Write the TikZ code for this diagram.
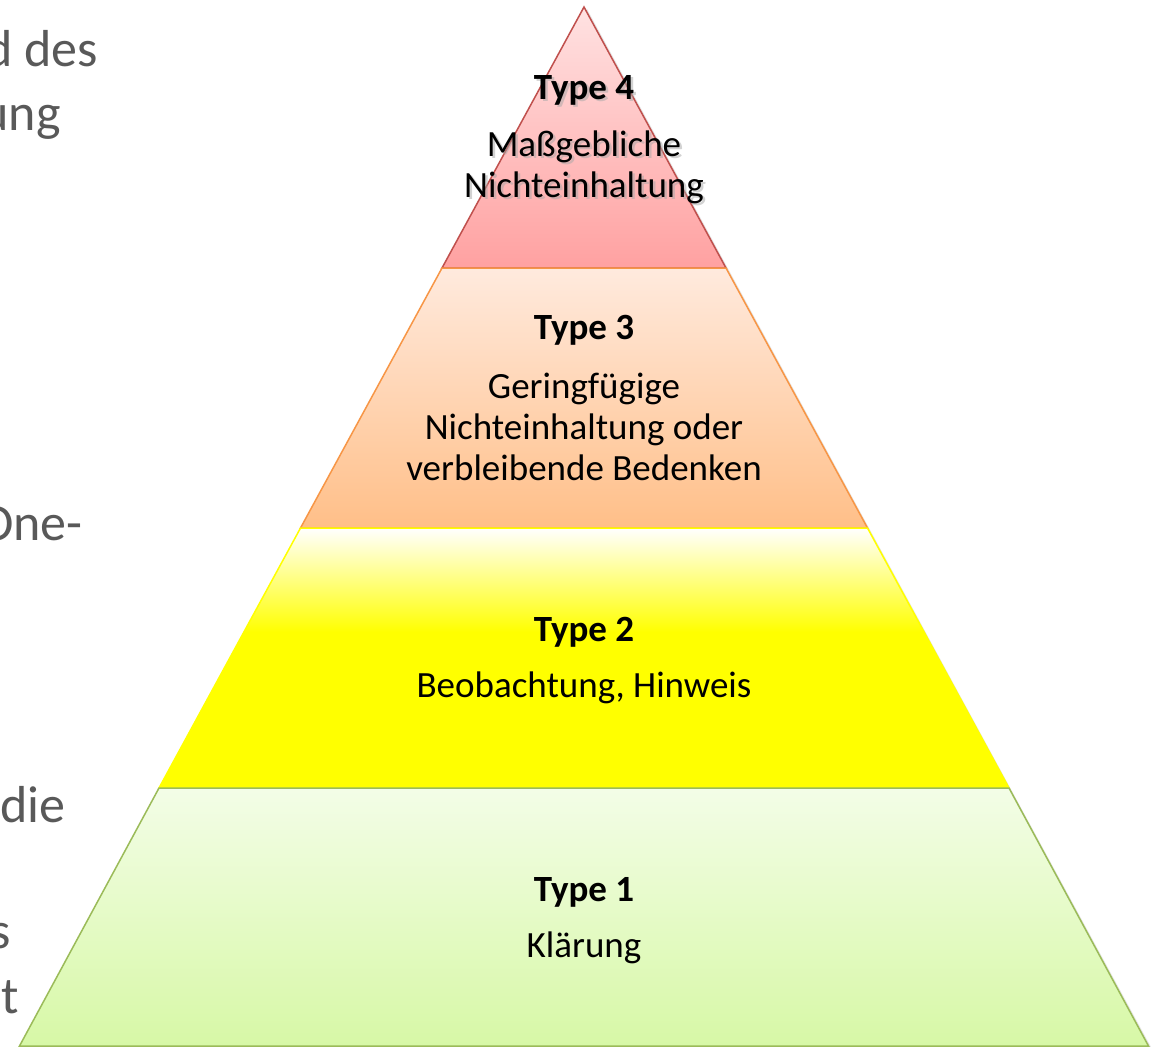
\documentclass[tikz,border=0pt]{standalone}
\usepackage{fontspec}
\setmainfont{Carlito}
\definecolor{sidegray}{HTML}{595959}
\definecolor{redtop}{HTML}{FFE2E2}
\definecolor{redbot}{HTML}{FFA1A1}
\definecolor{redline}{HTML}{C0504D}
\definecolor{orgtop}{HTML}{FFEADE}
\definecolor{orgbot}{HTML}{FFBF88}
\definecolor{orgline}{HTML}{F79646}
\definecolor{yelline}{HTML}{FFFF00}
\definecolor{grntop}{HTML}{F3FDE7}
\definecolor{grnbot}{HTML}{D7F8A6}
\definecolor{grnline}{HTML}{9BBB59}
\begin{document}
\begin{tikzpicture}[x=1pt,y=-1pt,
  band/.style={line width=1.5pt, line join=miter},
  ttl/.style={font=\fontsize{37}{41}\selectfont\bfseries, text=black, inner sep=0pt},
  lbl/.style={font=\fontsize{37}{41}\selectfont, align=center, text=black, inner sep=0pt},
  side/.style={font=\fontsize{52}{60}\selectfont, text=sidegray, anchor=base east, inner sep=0pt}]
\path[use as bounding box] (0,0) rectangle (1157,1047);
\fill[white] (0,0) rectangle (1157,1047);
% left text fragments (cut by picture edge)
\begin{scope}
\clip (0,0) rectangle (1157,1047);
\node[side] (s1) at (98,66) {d des};
\node[side] (s2) at (61,130) {ung};
\node[side] (s3) at (83,540) {One-};
\node[side] (s4) at (66,822) {die};
\node[side] (s5) at (11,948) {s};
\node[side] (s6) at (19,1013) {t};
\end{scope}
% pyramid corners
\coordinate (A) at (584,7);
\coordinate (L1) at (442,268);   \coordinate (R1) at (726,268);
\coordinate (L2) at (300.5,528); \coordinate (R2) at (867.5,528);
\coordinate (L3) at (159,788);   \coordinate (R3) at (1009,788);
\coordinate (L4) at (19.5,1046); \coordinate (R4) at (1148.5,1046);
% soft shadow
\fill[black!10] ([xshift=3pt,yshift=-2pt]A) -- ([xshift=3pt,yshift=-2pt]R4) -- ([xshift=3pt]L4) -- cycle;
% Type 4 band
\shade[top color=redtop, bottom color=redbot] (A) -- (R1) -- (L1) -- cycle;
\draw[band, redline] (A) -- (R1) -- (L1) -- cycle;
% Type 3 band
\shade[top color=orgtop, bottom color=orgbot] (L1) -- (R1) -- (R2) -- (L2) -- cycle;
\draw[band, orgline] (L1) -- (R1) -- (R2) -- (L2) -- cycle;
% Type 2 band
\fill[yelline] (L2) -- (R2) -- (R3) -- (L3) -- cycle;
\begin{scope}
\clip (L2) -- (R2) -- (R3) -- (L3) -- cycle;
\shade[top color=white, bottom color=yelline] (100,528) rectangle (1100,632);
\end{scope}
\draw[band, yelline] (L2) -- (R2) -- (R3) -- (L3) -- cycle;
% Type 1 band
\shade[top color=grntop, bottom color=grnbot] (L3) -- (R3) -- (R4) -- (L4) -- cycle;
\draw[band, grnline] (L3) -- (R3) -- (R4) -- (L4) -- cycle;
% labels (top band text has a soft shadow)
\node[ttl, text=black!35, opacity=0.5] at (586.5,92.5) {Type 4};
\node[lbl, text=black!35, opacity=0.5] at (586.5,169.5) {Maßgebliche\\Nichteinhaltung};
\node[ttl] (t4) at (584,90) {Type 4};
\node[lbl] (b4) at (584,167) {Maßgebliche\\Nichteinhaltung};
\node[ttl] (t3) at (584,330) {Type 3};
\node[lbl] (b3) at (584,427) {Geringfügige\\Nichteinhaltung oder\\verbleibende Bedenken};
\node[ttl] (t2) at (584,632) {Type 2};
\node[lbl] (b2) at (584,688) {Beobachtung, Hinweis};
\node[ttl] (t1) at (584,892) {Type 1};
\node[lbl] (b1) at (584,948) {Klärung};
\end{tikzpicture}
\end{document}
